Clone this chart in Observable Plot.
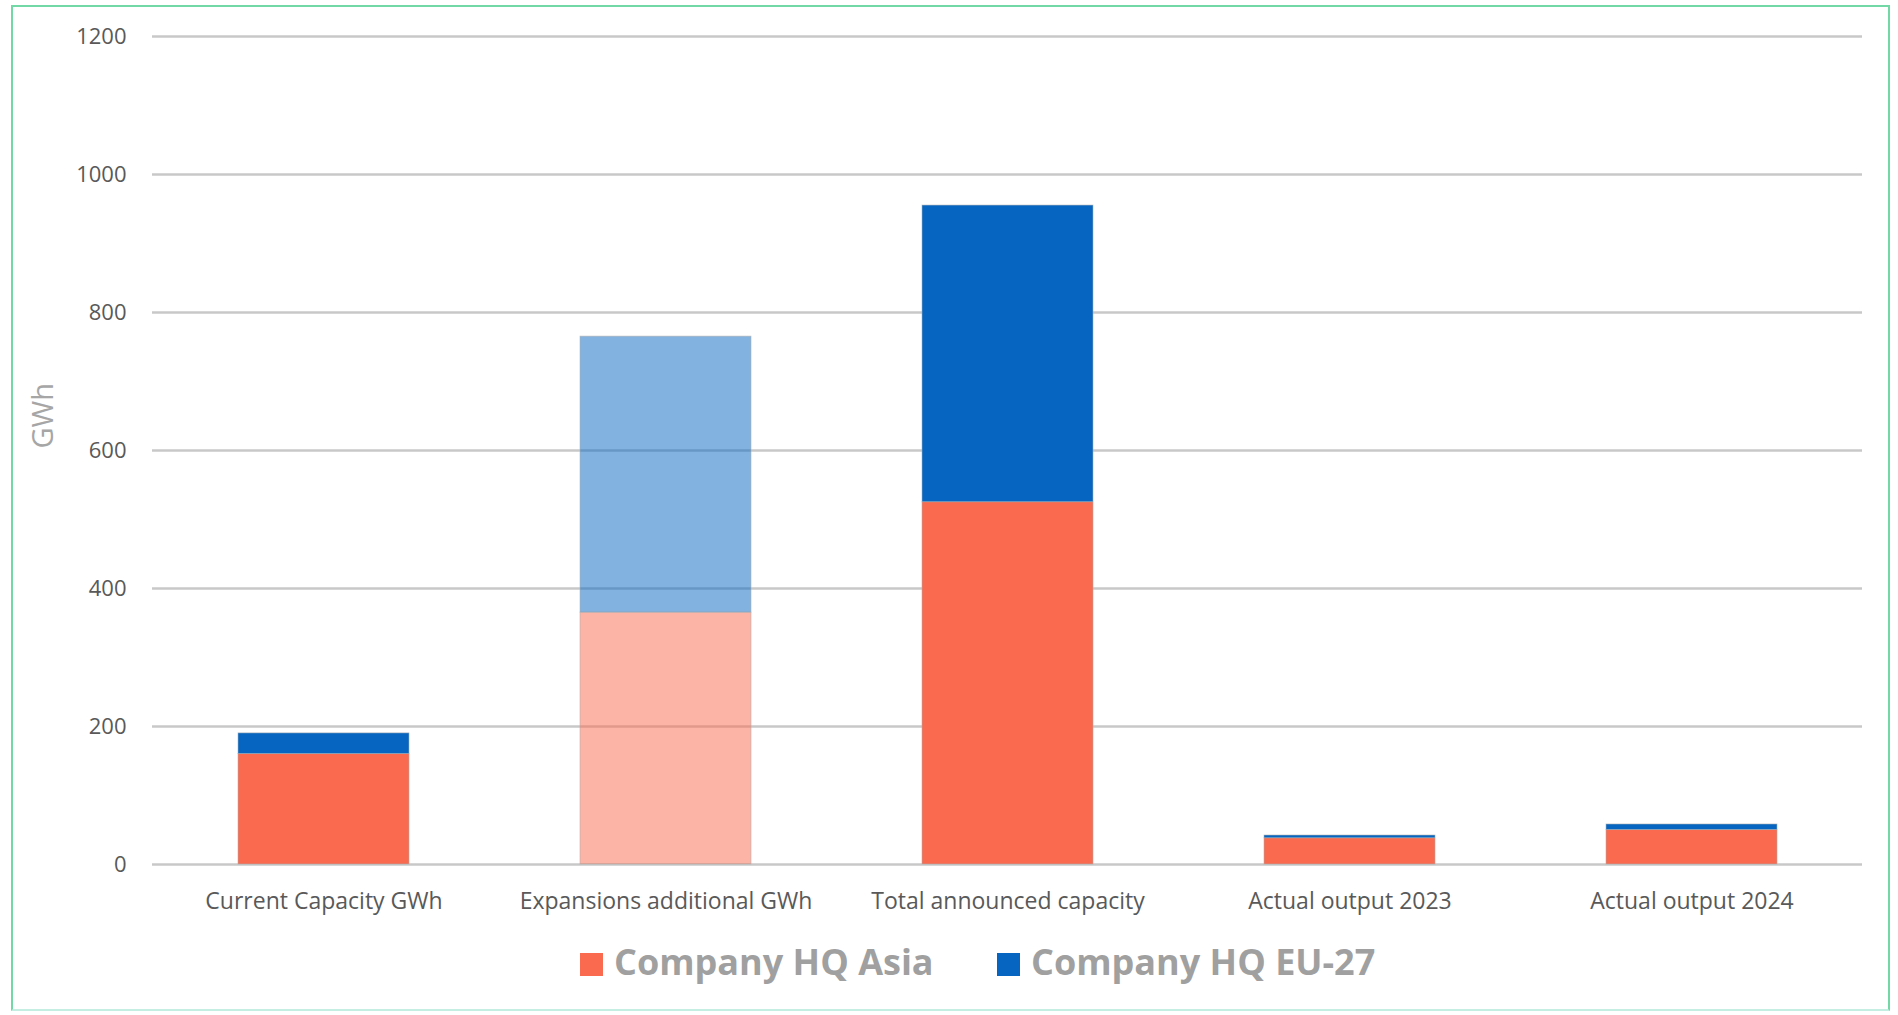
<!DOCTYPE html>
<html>
<head>
<meta charset="utf-8">
<script src="https://cdn.jsdelivr.net/npm/d3@7"></script>
<script src="https://cdn.jsdelivr.net/npm/@observablehq/plot@0.6"></script>
<style>
  html, body { margin: 0; padding: 0; background: #fff; }
  body { width: 1898px; height: 1015px; position: relative; overflow: hidden; font-family: "Open Sans", sans-serif; }
  #frame { position: absolute; left: 11px; top: 5px; width: 1879px; height: 1006px; border: 2px solid #72d9a6; border-bottom-color: #c4eee2; box-sizing: border-box; }
  #chart { position: absolute; left: 0; top: 0; }
  .legend-swatch { position: absolute; width: 23px; height: 23px; }
  .legend-label { position: absolute; font-family: "Open Sans", sans-serif; font-weight: 700; font-size: 36px; line-height: 36px; color: #a0a0a0; white-space: nowrap; }
</style>
</head>
<body>
<div id="frame"></div>
<div id="chart"></div>
<div id="legend"></div>
<script>
const categories = ["Current Capacity GWh", "Expansions additional GWh", "Total announced capacity", "Actual output 2023", "Actual output 2024"];
const seriesNames = ["Company HQ Asia", "Company HQ EU-27"];
const asiaValues = [160, 365, 525, 38, 50];
const euValues = [30, 400, 430, 4, 8];
const seriesColors = ["#F96A4E", "#0565C0"];
const lightCategory = "Expansions additional GWh";
const yTicks = [0, 200, 400, 600, 800, 1000, 1200];

const rows = categories.flatMap((c, i) => [
  {category: c, series: seriesNames[0], value: asiaValues[i], light: c === lightCategory ? 0.5 : 1},
  {category: c, series: seriesNames[1], value: euValues[i], light: c === lightCategory ? 0.5 : 1}
]);

const plot = Plot.plot({
  width: 1898,
  height: 940,
  marginLeft: 152,
  marginRight: 36,
  marginTop: 36,
  marginBottom: 76,
  style: {fontFamily: "'Open Sans', sans-serif", background: "transparent"},
  x: {domain: categories, paddingInner: 0.5, paddingOuter: 0.25, label: null},
  y: {domain: [0, 1200], label: null},
  color: {domain: seriesNames, range: seriesColors},
  opacity: {type: "identity"},
  marks: [
    Plot.ruleY(yTicks, {stroke: "#c8c8c8", strokeWidth: 2.4}),
    Plot.barY(rows, {x: "category", y: "value", fill: "series", fillOpacity: "light", stroke: "#b0b0b0", strokeWidth: 0.8, strokeOpacity: 0.7, order: seriesNames}),
    Plot.axisY(yTicks, {tickSize: 0, tickPadding: 26, fontSize: 22, fill: "#595959", label: null, tickFormat: d => String(d)}),
    Plot.axisX({tickSize: 0, tickPadding: 28, fontSize: 23, fill: "#595959", label: null}),
    Plot.text(["GWh"], {frameAnchor: "left", dx: -109, dy: -2, rotate: -90, fontSize: 29, fill: "#a6a6a6", text: d => d})
  ]
});
document.getElementById("chart").appendChild(plot);

const legend = document.getElementById("legend");
const legendPos = [{sx: 580, tx: 614}, {sx: 997, tx: 1031}];
seriesNames.forEach((name, i) => {
  const sw = document.createElement("div");
  sw.className = "legend-swatch";
  sw.style.left = legendPos[i].sx + "px";
  sw.style.top = "953px";
  sw.style.background = seriesColors[i];
  legend.appendChild(sw);
  const lb = document.createElement("div");
  lb.className = "legend-label";
  lb.style.left = legendPos[i].tx + "px";
  lb.style.top = "944px";
  lb.textContent = name;
  legend.appendChild(lb);
});
</script>
</body>
</html>
